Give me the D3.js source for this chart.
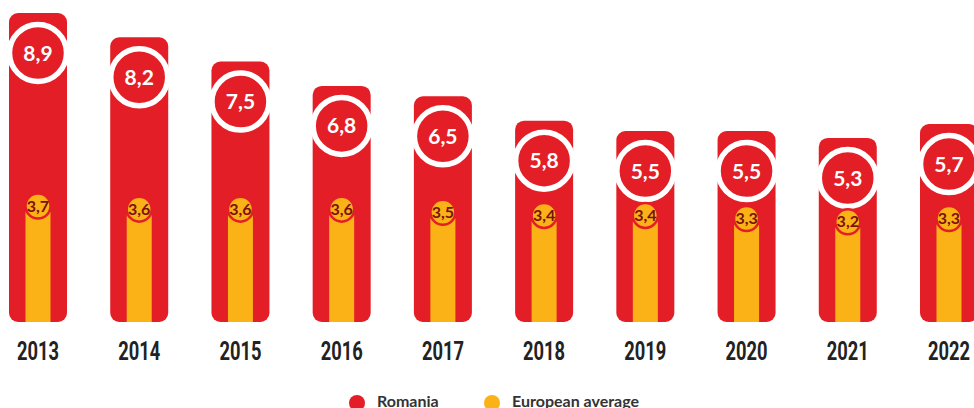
<!DOCTYPE html>
<html>
<head>
	<meta charset="utf-8">
	<title>Romania vs European average</title>
	<style>
		body { margin: 0; background: #fff; }
		svg { display: block; }
	</style>
</head>
<body>
	<svg width="974" height="408"></svg>
<script src="https://cdn.jsdelivr.net/npm/d3@7"></script>
<script>
	//数据
	const years = ["2013", "2014", "2015", "2016", "2017", "2018", "2019", "2020", "2021", "2022"]
	const romania = [8.9, 8.2, 7.5, 6.8, 6.5, 5.8, 5.5, 5.5, 5.3, 5.7]
	const europe = [3.7, 3.6, 3.6, 3.6, 3.5, 3.4, 3.4, 3.3, 3.2, 3.3]
	const seriesNames = ["Romania", "European average"]

	const red = "#e41e26", yellow = "#fbb217", darkRed = "#7a1010"
	const fmt = v => d3.format(".1f")(v).replace(".", ",")

	//比例尺
	const x = d3.scalePoint().domain(years).range([38, 949])
	const y = d3.scaleLinear().domain([0, 8.9]).range([322, 13])
	const yEu = d3.scaleLinear().domain([0, 3.7]).range([322, 206])
	const barW = 58, euW = 25

	const svg = d3.select("svg")
	const rows = years.map((yr, i) => ({ yr, ro: romania[i], eu: europe[i] }))

	//红色柱子
	svg.append("g").selectAll("rect").data(rows).enter().append("rect")
		.attr("x", d => x(d.yr) - barW / 2)
		.attr("y", d => y(d.ro))
		.attr("width", barW)
		.attr("height", d => y(0) - y(d.ro))
		.attr("rx", 9)
		.attr("fill", red)

	//黄色柱子
	svg.append("g").selectAll("rect").data(rows).enter().append("rect")
		.attr("x", d => x(d.yr) - euW / 2)
		.attr("y", d => yEu(d.eu) + 6)
		.attr("width", euW)
		.attr("height", d => yEu(0) - yEu(d.eu) - 6)
		.attr("fill", yellow)

	//红色圆圈
	const rc = svg.append("g").selectAll("g").data(rows).enter().append("g")
		.attr("transform", d => `translate(${x(d.yr)}, ${y(d.ro) + 40})`)
	rc.append("circle")
		.attr("r", 28.5)
		.attr("fill", red)
		.attr("stroke", "#fff")
		.attr("stroke-width", 5.5)
	rc.append("text")
		.attr("text-anchor", "middle")
		.attr("dy", "0.36em")
		.attr("fill", "#fff")
		.style("font", "bold 21px Lato, sans-serif")
		.text(d => fmt(d.ro))

	//黄色圆圈
	const yc = svg.append("g").selectAll("g").data(rows).enter().append("g")
		.attr("transform", d => `translate(${x(d.yr)}, ${yEu(d.eu)})`)
	yc.append("circle")
		.attr("r", 12.5)
		.attr("fill", yellow)
		.attr("stroke", red)
		.attr("stroke-width", 2.5)
	yc.append("text")
		.attr("text-anchor", "middle")
		.attr("dy", "0.36em")
		.attr("fill", darkRed)
		.style("font", "bold 16px Lato, sans-serif")
		.text(d => fmt(d.eu))

	//年份
	svg.append("g").selectAll("text").data(years).enter().append("text")
		.attr("x", d => x(d))
		.attr("y", 360)
		.attr("text-anchor", "middle")
		.attr("fill", "#222")
		.attr("textLength", 42)
		.attr("lengthAdjust", "spacingAndGlyphs")
		.style("font", "bold 25px Roboto, sans-serif")
		.text(d => d)

	//图例
	const legX = [357, 492]
	const leg = svg.append("g").selectAll("g").data(seriesNames).enter().append("g")
		.attr("transform", (d, i) => `translate(${legX[i]}, 403)`)
	leg.append("circle")
		.attr("r", 8)
		.attr("fill", (d, i) => i ? yellow : red)
	leg.append("text")
		.attr("x", 20)
		.attr("y", 4)
		.attr("fill", "#333")
		.style("font", "bold 16px Lato, sans-serif")
		.text(d => d)
</script>
</body>
</html>
